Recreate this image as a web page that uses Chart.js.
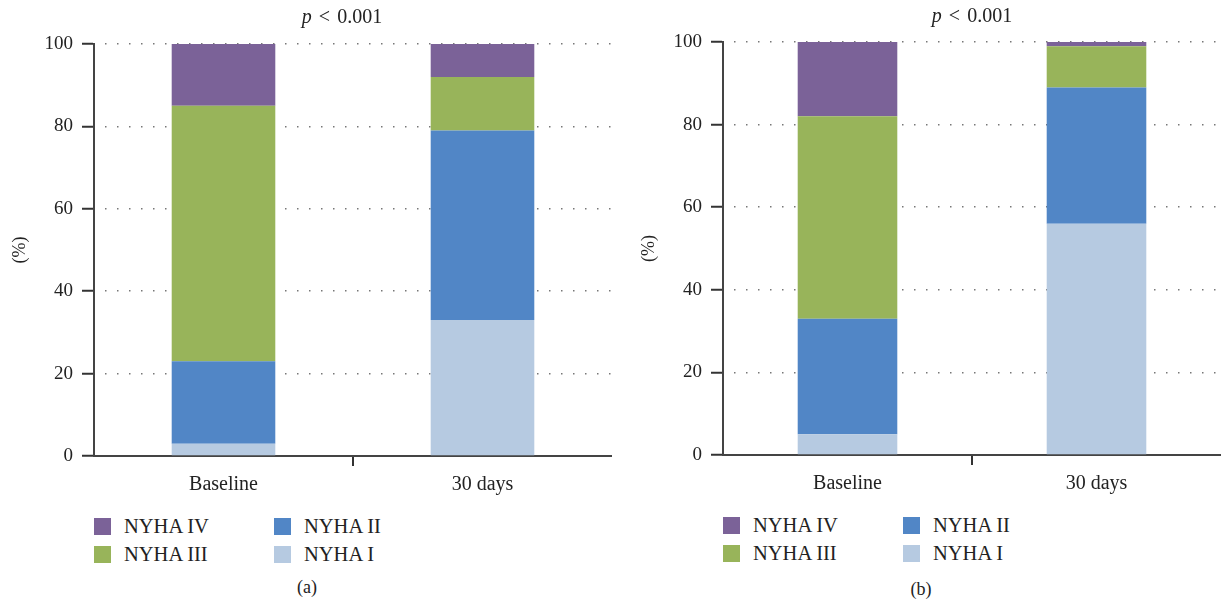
<!DOCTYPE html>
<html>
<head>
<meta charset="utf-8">
<script src="https://cdn.jsdelivr.net/npm/chart.js@4"></script>
<style>
  body { margin: 0; background: #fff; font-family: "Liberation Serif", "DejaVu Serif", serif; color: #222; }
  #page { position: relative; width: 1221px; height: 602px; overflow: hidden; }
  .panel { position: absolute; top: 0; }
  .ptitle { position: absolute; font-size: 20px; white-space: nowrap; transform: translateX(-50%); word-spacing: 2px; }
  .legend { position: absolute; display: grid; grid-template-columns: 180px 180px; row-gap: 8px; font-size: 20.5px; }
  .legend div { display: flex; align-items: center; height: 20px; }
  .legend span.sw { display: inline-block; width: 17px; height: 17px; margin-right: 13px; }
  .caption { position: absolute; font-size: 18px; transform: translateX(-50%); }
</style>
</head>
<body>
<div id="page">
  <div class="panel" style="left:0;width:612px;height:500px;"><canvas id="chartA" width="612" height="500"></canvas></div>
  <div class="panel" style="left:629px;width:592px;height:500px;"><canvas id="chartB" width="592" height="500"></canvas></div>
  <div class="ptitle" style="left:342px;top:5px;"><i>p</i> &lt; 0.001</div>
  <div class="ptitle" style="left:972px;top:4px;"><i>p</i> &lt; 0.001</div>
  <div class="legend" id="legendA" style="left:94px;top:516px;"></div>
  <div class="legend" id="legendB" style="left:723px;top:515px;"></div>
  <div class="caption" style="left:307px;top:577px;">(a)</div>
  <div class="caption" style="left:921px;top:579px;">(b)</div>
</div>
<script>
// ---------- DADOS ----------
const categorias = ["Baseline", "30 days"];
const series = ["NYHA I", "NYHA II", "NYHA III", "NYHA IV"];
const cores = ["#b6cae1", "#5186c6", "#98b45a", "#7b6298"];

// painel (a)
const nyhaI_a   = [3, 33];
const nyhaII_a  = [20, 46];
const nyhaIII_a = [62, 13];
const nyhaIV_a  = [15, 8];

// painel (b)
const nyhaI_b   = [5, 56];
const nyhaII_b  = [28, 33];
const nyhaIII_b = [49, 10];
const nyhaIV_b  = [18, 1];

const yTicks = [0, 20, 40, 60, 80, 100];

const fonte = { family: "'Liberation Serif', 'DejaVu Serif', serif", size: 20 };

// ---------- LEGENDA ----------
function montarLegenda(id) {
  const el = document.getElementById(id);
  // ordem em colunas: IV, II / III, I
  [3, 1, 2, 0].forEach(i => {
    const d = document.createElement("div");
    d.innerHTML = `<span class="sw" style="background:${cores[i]}"></span>${series[i]}`;
    el.appendChild(d);
  });
}

// ---------- GRÁFICO ----------
function desenharGrafico(id, valores, topo) {
  const ctx = document.getElementById(id).getContext("2d");
  return new Chart(ctx, {
    type: "bar",
    data: {
      labels: categorias,
      datasets: valores.map((v, i) => ({
        label: series[i],
        data: v,
        backgroundColor: cores[i],
        borderWidth: 0,
        categoryPercentage: 1,
        barPercentage: 0.4
      }))
    },
    options: {
      responsive: false,
      animation: false,
      layout: { padding: { top: topo, left: 0, right: 0, bottom: 0 } },
      plugins: { legend: { display: false }, title: { display: false }, tooltip: { enabled: false } },
      scales: {
        x: {
          stacked: true,
          afterFit: axis => { axis.height = 500 - (topo === 44 ? 456 : 455); },
          grid: {
            offset: true,
            drawOnChartArea: false,
            drawTicks: true,
            tickLength: 10,
            color: c => (c.index === 1 ? "#333" : "transparent"),
            lineWidth: 2
          },
          border: { display: true, color: "#444", width: 2 },
          ticks: { font: fonte, color: "#222", padding: 7 }
        },
        y: {
          stacked: true,
          min: 0,
          max: 100,
          afterFit: axis => { axis.width = 94; },
          afterBuildTicks: axis => { axis.ticks = yTicks.map(v => ({ value: v })); },
          grid: {
            drawOnChartArea: true,
            color: "#777",
            lineWidth: 1.5,
            tickLength: 12,
            tickColor: "#333",
            tickWidth: 2,
            tickBorderDash: []
          },
          border: { display: true, color: "#444", width: 2, dash: [1.5, 10.5], dashOffset: -10 },
          ticks: { font: { family: fonte.family, size: 19 }, color: "#222", padding: 9 },
          title: {
            display: true,
            text: "(%)",
            font: { family: fonte.family, size: 18 },
            color: "#222",
            padding: { top: 9, bottom: 0 }
          }
        }
      }
    }
  });
}

montarLegenda("legendA");
montarLegenda("legendB");
desenharGrafico("chartA", [nyhaI_a, nyhaII_a, nyhaIII_a, nyhaIV_a], 44);
desenharGrafico("chartB", [nyhaI_b, nyhaII_b, nyhaIII_b, nyhaIV_b], 42);
</script>
</body>
</html>
